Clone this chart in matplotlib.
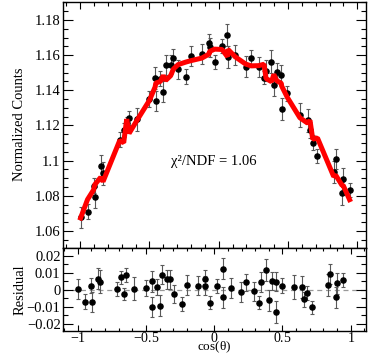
import matplotlib
matplotlib.use('Agg')
import matplotlib.pyplot as plt
import numpy as np
from matplotlib.ticker import MultipleLocator, FuncFormatter

plt.rcParams['font.family'] = ['Liberation Serif', 'DejaVu Serif']
plt.rcParams['axes.unicode_minus'] = True
plt.rcParams['mathtext.fontset'] = 'custom'
plt.rcParams['mathtext.rm'] = 'Liberation Serif'
plt.rcParams['mathtext.it'] = 'Liberation Serif:italic'

# ---------------- data ----------------
cos_theta = [-0.997, -0.947, -0.903, -0.894, -0.852, -0.835, -0.715, -0.686, -0.664, -0.647,
             -0.591, -0.500, -0.459, -0.454, -0.422, -0.400, -0.383, -0.347, -0.327, -0.293,
             -0.239, -0.198, -0.122, -0.069, -0.066, -0.029, 0.024, 0.063, 0.066, 0.120,
             0.195, 0.234, 0.288, 0.327, 0.342, 0.381, 0.398, 0.420, 0.452, 0.454,
             0.496, 0.586, 0.642, 0.659, 0.679, 0.713, 0.830, 0.845, 0.891, 0.899, 0.945]

norm_counts = [1.0678, 1.0710, 1.0858, 1.0792, 1.0970, 1.0928, 1.1118, 1.1174, 1.1212, 1.1241,
               1.1234, 1.1351, 1.1468, 1.1341, 1.1466, 1.1392, 1.1544, 1.1544, 1.1582, 1.1520,
               1.1478, 1.1595, 1.1607, 1.1667, 1.1645, 1.1559, 1.1652, 1.1715, 1.1588, 1.1600,
               1.1535, 1.1582, 1.1530, 1.1472, 1.1512, 1.1563, 1.1429, 1.1503, 1.1487, 1.1294,
               1.1383, 1.1260, 1.1229, 1.1174, 1.1102, 1.1027, 1.0937, 1.1009, 1.0814, 1.0896, 1.0833]

residual = [0.0004, -0.0069, 0.0024, -0.0072, 0.0065, 0.0047, 0.0004, 0.0072, -0.0024, 0.0086,
            0.0006, 0.0008, 0.0049, -0.0100, 0.0016, -0.0092, 0.0088, 0.0061, 0.0061, -0.0026,
            -0.0082, 0.0026, 0.0024, 0.0061, 0.0024, -0.0075, 0.0020, 0.0124, -0.0045, 0.0010,
            -0.0014, 0.0043, -0.0010, -0.0076, 0.0045, 0.0114, -0.0061, 0.0049, 0.0047, -0.0131,
            0.0024, 0.0016, 0.0016, -0.0055, -0.0020, -0.0102, 0.0027, 0.0092, -0.0045, 0.0037, 0.0055]

errors = [0.0059, 0.0042, 0.0042, 0.0060, 0.0060, 0.0067, 0.0042, 0.0040, 0.0036, 0.0040,
          0.0067, 0.0047, 0.0062, 0.0057, 0.0044, 0.0059, 0.0057, 0.0054, 0.0054, 0.0054,
          0.0041, 0.0059, 0.0055, 0.0055, 0.0055, 0.0039, 0.0041, 0.0064, 0.0061, 0.0059,
          0.0060, 0.0049, 0.0057, 0.0039, 0.0059, 0.0064, 0.0061, 0.0053, 0.0054, 0.0064,
          0.0042, 0.0068, 0.0066, 0.0044, 0.0041, 0.0039, 0.0063, 0.0059, 0.0064, 0.0061, 0.0041]

chi2_ndf = 1.06

x = np.array(cos_theta)
y = np.array(norm_counts)
r = np.array(residual)
e = np.array(errors)
fit = y - r

# ---------------- figure ----------------
W, H = 374, 355
fig = plt.figure(figsize=(W / 100, H / 100), dpi=100)


def rect(l, t, rr, b):
    return [l / W, 1 - b / H, (rr - l) / W, (b - t) / H]


ax1 = fig.add_axes(rect(63.3, 2, 366, 247.5))
ax2 = fig.add_axes(rect(63.3, 247.5, 366, 331))


def gfmt(v, pos):
    if abs(v) < 1e-9:
        return '0'
    return ('%g' % round(v, 4)).replace('-', '\u2212')


def mfmt(v, pos):
    if abs(v) < 1e-9:
        return r'$\mathrm{0}$'
    return r'$\mathrm{%s}$' % ('%g' % round(v, 4))


FS = 10.5

# top panel
ax1.errorbar(x, y, yerr=e, fmt='o', color='black', ms=3.7, ecolor='0.35',
             elinewidth=0.8, capsize=1.3, capthick=0.8, zorder=2)
ax1.plot(x, fit, color='red', lw=3.6, solid_joinstyle='bevel', zorder=3)
ax1.set_xlim(-1.122, 1.0635)
ax1.set_ylim(1.0506, 1.1902)
ax1.xaxis.set_major_locator(MultipleLocator(0.5))
ax1.xaxis.set_minor_locator(MultipleLocator(0.1))
ax1.yaxis.set_major_locator(MultipleLocator(0.02))
ax1.yaxis.set_minor_locator(MultipleLocator(0.005))
ax1.yaxis.set_major_formatter(FuncFormatter(gfmt))
ax1.tick_params(axis='both', which='both', direction='in', top=True, right=True,
                labelbottom=False, labelsize=FS, width=0.8)
ax1.tick_params(axis='y', which='major', length=7, pad=2)
ax1.tick_params(axis='y', which='minor', length=3.6)
ax1.tick_params(axis='x', which='major', length=5)
ax1.tick_params(axis='x', which='minor', length=2.6)
fig.text(171 / W, 1 - 165 / H, '\u03c7\u00b2/NDF = %.2f' % chi2_ndf, fontsize=FS,
         ha='left', va='baseline')

# residual panel
ax2.axhline(0, color='0.6', lw=0.9, ls=(0, (4, 3)), zorder=1)
ax2.errorbar(x, r, yerr=e, fmt='o', color='black', ms=3.7, ecolor='0.35',
             elinewidth=0.8, capsize=1.3, capthick=0.8, zorder=2)
ax2.set_xlim(-1.1055, 1.112)
ax2.set_ylim(-0.0241, 0.0247)
ax2.xaxis.set_major_locator(MultipleLocator(0.5))
ax2.xaxis.set_minor_locator(MultipleLocator(0.1))
ax2.yaxis.set_major_locator(MultipleLocator(0.01))
ax2.yaxis.set_minor_locator(MultipleLocator(0.005))
ax2.xaxis.set_major_formatter(FuncFormatter(mfmt))
ax2.yaxis.set_major_formatter(FuncFormatter(gfmt))
ax2.tick_params(axis='both', which='both', direction='in', top=True, right=True,
                labelsize=FS, width=0.8)
ax2.tick_params(axis='y', which='major', length=7, pad=2)
ax2.tick_params(axis='y', which='minor', length=3.6)
ax2.tick_params(axis='x', which='major', length=4.5, pad=0.3, labelsize=10)
ax2.tick_params(axis='x', which='minor', length=2.3)

for ax in (ax1, ax2):
    for s in ax.spines.values():
        s.set_linewidth(1.0)

fig.text(20 / W, 1 - 124.5 / H, 'Normalized Counts', rotation=90, fontsize=FS,
         ha='center', va='center')
fig.text(20 / W, 1 - 289.5 / H, 'Residual', rotation=90, fontsize=FS,
         ha='center', va='center')
fig.text(214.5 / W, 0.0, '$\\mathrm{cos(\u03b8)}$', fontsize=9.5,
         ha='center', va='bottom')

fig.savefig('out.png', dpi=100)
